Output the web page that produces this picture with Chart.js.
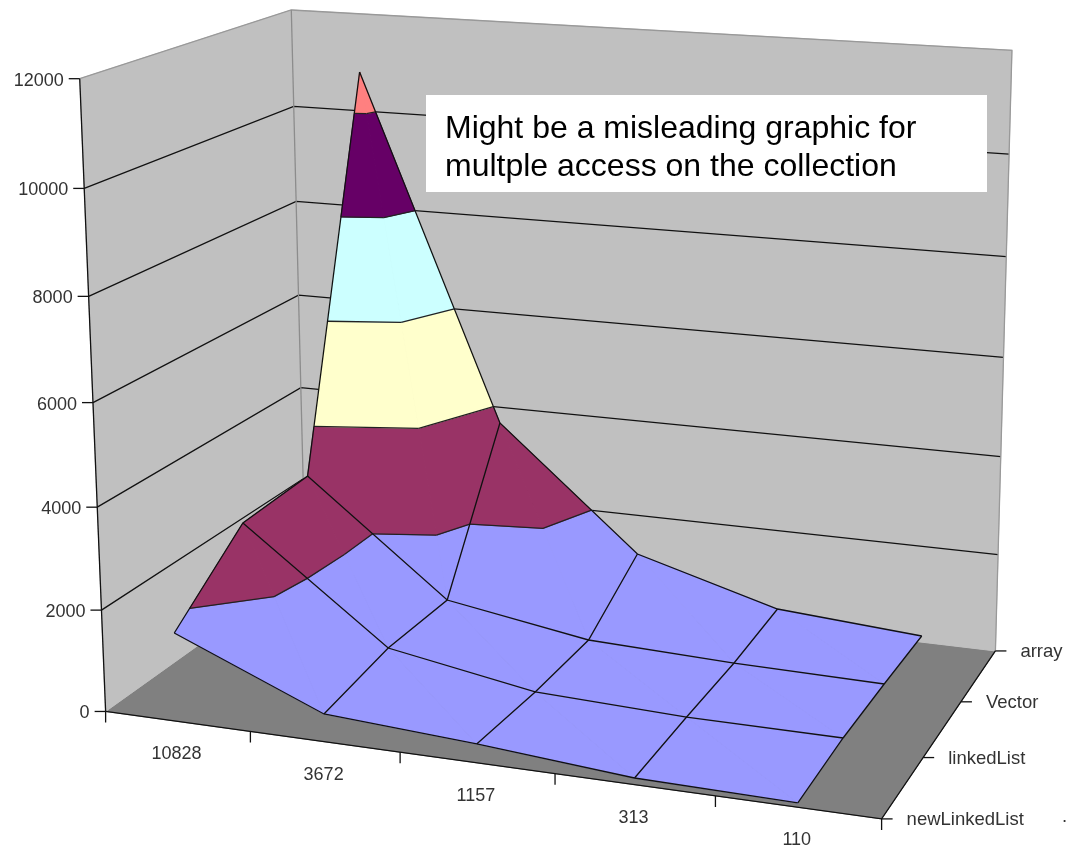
<!DOCTYPE html>
<html>
<head>
<meta charset="utf-8">
<title>Collection access times</title>
<script src="https://cdn.jsdelivr.net/npm/chart.js@4/dist/chart.umd.min.js"></script>
<style>
    html, body { margin: 0; padding: 0; background: #fff; }
    canvas { display: block; }
</style>
</head>
<body>
<canvas id="surface" width="1066" height="849"></canvas>
<script>
const categories = ['10828', '3672', '1157', '313', '110'];
const seriesNames = ['newLinkedList', 'linkedList', 'Vector', 'array'];
const newLinkedList = [1733, 539, 361, 126, 80];
const linkedList = [2966, 796, 292, 186, 175];
const vectorValues = [3062, 793, 318, 214, 166];
const arrayValues = [10804, 3664, 1170, 340, 129];
const valueTicks = [0, 2000, 4000, 6000, 8000, 10000, 12000];
const bandColors = ['#9999FF', '#993366', '#FFFFCC', '#CCFFFF', '#660066', '#FF8080'];
const rows = [newLinkedList, linkedList, vectorValues, arrayValues];
const maxValue = 12000;

// box corners on screen: [along categories, along series, height, px, py]
const boxCorners = [
    [0, 0, 0, 105, 712], [1, 0, 0, 882, 818], [1, 1, 0, 995, 652], [0, 1, 0, 306, 568],
    [0, 0, 1, 80, 79], [0, 1, 1, 291, 10], [1, 1, 1, 1012, 50]
];

function solveCamera(corners) {
    const A = [], b = [];
    corners.forEach(([u, v, h, x, y]) => {
        A.push([u, v, h, 1, 0, 0, 0, 0, -x * u, -x * v, -x * h]); b.push(x);
        A.push([0, 0, 0, 0, u, v, h, 1, -y * u, -y * v, -y * h]); b.push(y);
    });
    const n = 11;
    const M = [];
    for (let i = 0; i < n; i++) {
        M.push(new Array(n + 1).fill(0));
        for (let j = 0; j < n; j++) A.forEach(r => { M[i][j] += r[i] * r[j]; });
        A.forEach((r, k) => { M[i][n] += r[i] * b[k]; });
    }
    for (let i = 0; i < n; i++) {
        let best = i;
        for (let k = i + 1; k < n; k++) if (Math.abs(M[k][i]) > Math.abs(M[best][i])) best = k;
        [M[i], M[best]] = [M[best], M[i]];
        for (let k = 0; k < n; k++) {
            if (k === i) continue;
            const f = M[k][i] / M[i][i];
            for (let j = i; j <= n; j++) M[k][j] -= f * M[i][j];
        }
    }
    return M.map((r, i) => r[n] / r[i]);
}

const cam = solveCamera(boxCorners);

function project(u, v, h) {
    const w = cam[8] * u + cam[9] * v + cam[10] * h + 1;
    return {
        x: (cam[0] * u + cam[1] * v + cam[2] * h + cam[3]) / w,
        y: (cam[4] * u + cam[5] * v + cam[6] * h + cam[7]) / w
    };
}

const catPos = c => (c + 0.5) / categories.length;
const rowPos = r => r / (seriesNames.length - 1);

const datasets = [];

function addShape(points, color, lineColor) {
    datasets.push({
        data: points, showLine: true, fill: 'shape', backgroundColor: color,
        borderColor: lineColor || color, borderWidth: 1, pointRadius: 0, tension: 0
    });
}

function addLine(points, color) {
    datasets.push({
        data: points, showLine: true, fill: false,
        borderColor: color || '#111', borderWidth: 1.3, pointRadius: 0, tension: 0
    });
}

// walls and floor
const corner = (u, v, h) => project(u, v, h);
addShape([corner(0, 0, 0), corner(0, 1, 0), corner(1, 1, 0), corner(1, 0, 0), corner(0, 0, 0)], '#808080');
addShape([corner(0, 0, 0), corner(0, 1, 0), corner(0, 1, 1), corner(0, 0, 1), corner(0, 0, 0)], '#C0C0C0');
addShape([corner(0, 1, 0), corner(1, 1, 0), corner(1, 1, 1), corner(0, 1, 1), corner(0, 1, 0)], '#C0C0C0');

valueTicks.slice(1, -1).forEach(t => {
    const h = t / maxValue;
    addLine([corner(0, 0, h), corner(0, 1, h), corner(1, 1, h)]);
});
addLine([corner(0, 0, 1), corner(0, 1, 1), corner(1, 1, 1), corner(1, 1, 0)], '#999');
addLine([corner(0, 1, 0), corner(0, 1, 1)], '#8c8c8c');
addLine([corner(0, 0, 0), corner(0, 0, 1)]);
addLine([corner(0, 0, 0), corner(1, 0, 0), corner(1, 1, 0)]);

// clip one triangle to a value band, returns the kept polygon
function clipBand(tri, lo, hi) {
    const cut = (poly, keep, level) => {
        const out = [];
        poly.forEach((p, i) => {
            const q = poly[(i + 1) % poly.length];
            if (keep(p.val)) out.push(p);
            if (keep(p.val) !== keep(q.val)) {
                const t = (level - p.val) / (q.val - p.val);
                out.push({ u: p.u + (q.u - p.u) * t, v: p.v + (q.v - p.v) * t, val: level });
            }
        });
        return out;
    };
    let poly = cut(tri, x => x >= lo, lo);
    if (poly.length) poly = cut(poly, x => x <= hi, hi);
    return poly;
}

const toScreen = p => project(p.u, p.v, p.val / maxValue);
const vertex = (c, r) => ({ u: catPos(c), v: rowPos(r), val: rows[r][c] });
const contourSegments = [];

function addTriangle(tri) {
    bandColors.forEach((color, b) => {
        const poly = clipBand(tri, b * 2000, (b + 1) * 2000);
        if (poly.length < 3) return;
        addShape([...poly, poly[0]].map(toScreen), color);
        // the edge along the top of the band
        const top = poly.filter(p => p.val === (b + 1) * 2000);
        if (top.length === 2) contourSegments.push(top.map(toScreen));
    });
}

for (let r = seriesNames.length - 2; r >= 0; r--) {
    for (let c = 0; c < categories.length - 1; c++) {
        addTriangle([vertex(c, r), vertex(c + 1, r), vertex(c, r + 1)]);
        addTriangle([vertex(c + 1, r), vertex(c + 1, r + 1), vertex(c, r + 1)]);
    }
}
contourSegments.forEach(s => addLine(s, '#222'));

// mesh lines
rows.forEach((_, r) => addLine(categories.map((_, c) => toScreen(vertex(c, r)))));
categories.forEach((_, c) => addLine(rows.map((_, r) => toScreen(vertex(c, r)))));

// axis ticks
valueTicks.forEach(t => {
    const p = corner(0, 0, t / maxValue);
    addLine([{ x: p.x - 11, y: p.y }, p]);
});
categories.forEach((_, c) => {
    const p = corner(c / categories.length, 0, 0);
    addLine([p, { x: p.x, y: p.y + 11 }]);
});
{
    const p = corner(1, 0, 0);
    addLine([p, { x: p.x, y: p.y + 11 }]);
}
seriesNames.forEach((_, r) => {
    const p = corner(1, rowPos(r), 0);
    addLine([p, { x: p.x + 11, y: p.y }]);
});

const labelsPlugin = {
    id: 'surfaceLabels',
    afterDatasetsDraw(chart) {
        const { ctx, scales } = chart;
        const X = p => scales.x.getPixelForValue(p.x);
        const Y = p => scales.y.getPixelForValue(p.y);
        ctx.save();
        ctx.fillStyle = '#333';
        ctx.font = '18px "Liberation Sans", Arial, sans-serif';
        ctx.textBaseline = 'middle';
        ctx.textAlign = 'right';
        valueTicks.forEach(t => {
            const p = corner(0, 0, t / maxValue);
            ctx.fillText(String(t), X(p) - 16, Y(p) + 2);
        });
        ctx.textAlign = 'center';
        categories.forEach((name, c) => {
            const p = corner(catPos(c), 0, 0);
            ctx.fillText(name, X(p) - 1, Y(p) + 33);
        });
        ctx.textAlign = 'left';
        ctx.font = '18.5px "Liberation Sans", Arial, sans-serif';
        seriesNames.forEach((name, r) => {
            const p = corner(1, rowPos(r), 0);
            ctx.fillText(name, X(p) + 25, Y(p) + 1);
        });
        ctx.fillText('.', 1062, 817);

        // annotation box on the back wall
        ctx.fillStyle = '#fff';
        ctx.fillRect(426, 95, 561, 97);
        ctx.fillStyle = '#000';
        ctx.font = '32px "Liberation Sans", Arial, sans-serif';
        ctx.textBaseline = 'alphabetic';
        ctx.fillText('Might be a misleading graphic for', 445, 138);
        ctx.fillText('multple access on the collection', 445, 176);
        ctx.restore();
    }
};

new Chart(document.getElementById('surface').getContext('2d'), {
    type: 'scatter',
    data: { datasets: datasets.slice().reverse() },
    options: {
        responsive: false,
        animation: false,
        layout: { padding: 0 },
        plugins: { legend: { display: false }, tooltip: { enabled: false }, title: { display: false } },
        scales: {
            x: { type: 'linear', min: 0, max: 1066, display: false },
            y: { type: 'linear', min: 0, max: 849, reverse: true, display: false }
        }
    },
    plugins: [labelsPlugin]
});
</script>
</body>
</html>
